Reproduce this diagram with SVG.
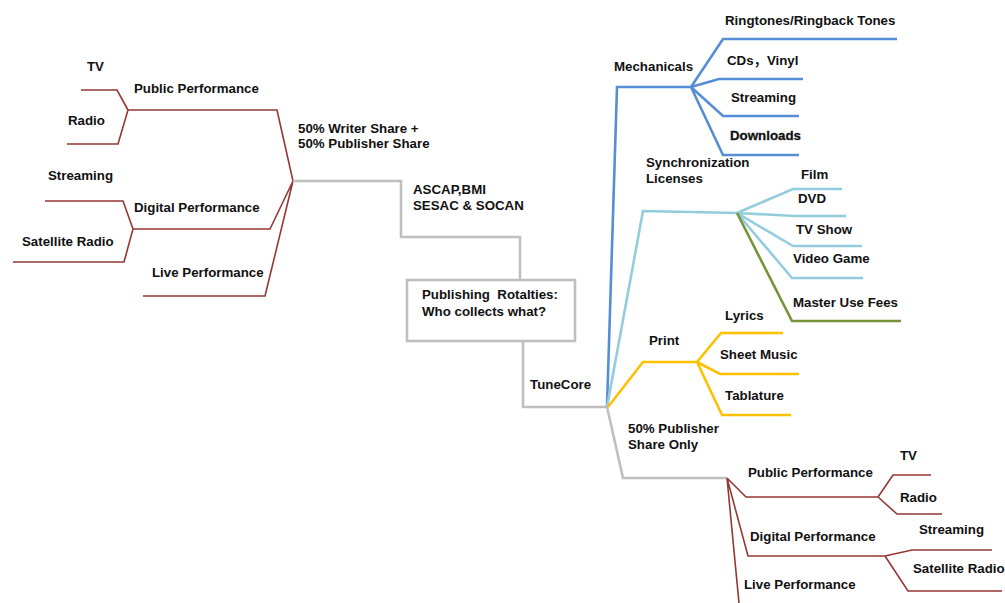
<svg xmlns="http://www.w3.org/2000/svg" width="1005" height="603" viewBox="0 0 1005 603">
<style>
text{font-family:"Liberation Sans",Arial,"Noto Sans CJK SC",sans-serif;font-weight:bold;font-size:13.3px;fill:#111}
.l{fill:none;stroke-linejoin:miter;stroke-linecap:butt}
.red{stroke:#953735;stroke-width:1.6}
.gray{stroke:#BFBFBF;stroke-width:2.6}
.blue{stroke:#558ED5;stroke-width:2.6}
.lb{stroke:#93CDDD;stroke-width:2.6}
.grn{stroke:#77933C;stroke-width:2.6}
.yel{stroke:#FFC000;stroke-width:2.6}
</style>
<rect width="1005" height="603" fill="#fff"/>
<g id="connectors">
<path class="l red" d="M81,90 H117 L128,110 M67,144 H118 L128,110 M128,110 H277 L293,181 M45,201 H123 L133,229 M13,262 H124 L133,229 M133,229 H270 L293,181 M143,296 H265 L293,181"/>
<path class="l gray" d="M293,181 H401 V237 H520 V279 M523,341 V407 H607 M607,407 L623,478 H727"/>
<path class="l blue" d="M607,407 L617,87 H691 M691,87 L723,39 H897 M691,87 L719,79 H803 M691,87 L723,116 H799 M691,87 L723,155 H799"/>
<path class="l lb" d="M607,407 L643,211 L737,213 M737,213 L793,189 H842 M737,213 L795,216 H846 M737,213 L793,246 H862 M737,213 L792,278 H863"/>
<path class="l grn" d="M737,213 L792,321 H901"/>
<path class="l yel" d="M608,407 L643,362 H697 M697,362 L721,333 H783 M697,362 L720,374 H799 M697,362 L722,415 H791"/>
<path class="l red" d="M727,478 L746,497 H878 M878,497 L893,475 H931 M878,497 L897,514 H942 M727,478 L748,556 H885 M885,556 L912,550 H992 M885,556 L908,591 H1002 M727,478 L739,603"/>
</g>
<g id="root"><rect x="407" y="280" width="168" height="61" fill="#fff" stroke="#BFBFBF" stroke-width="2.6"/><text x="422" y="299">Publishing&#160; Rotalties:</text><text x="422" y="316">Who collects what?</text></g>
<g id="pro"><text x="413" y="194">ASCAP,BMI</text><text x="413" y="210">SESAC &amp; SOCAN</text></g>
<g id="writer-share"><text x="298" y="133">50% Writer Share +</text><text x="298" y="148">50% Publisher Share</text></g>
<g id="l-public"><text x="134" y="93">Public Performance</text></g>
<g id="l-tv"><text x="87" y="71">TV</text></g>
<g id="l-radio"><text x="68" y="125">Radio</text></g>
<g id="l-digital"><text x="134" y="212">Digital Performance</text></g>
<g id="l-streaming"><text x="48" y="180">Streaming</text></g>
<g id="l-satellite"><text x="22" y="246">Satellite Radio</text></g>
<g id="l-live"><text x="152" y="277">Live Performance</text></g>
<g id="tunecore"><text x="530" y="389">TuneCore</text></g>
<g id="mechanicals"><text x="614" y="71">Mechanicals</text></g>
<g id="ringtones"><text x="725" y="25">Ringtones/Ringback Tones</text></g>
<g id="cds"><text x="727" y="65">CDs，Vinyl</text></g>
<g id="m-streaming"><text x="731" y="102">Streaming</text></g>
<g id="downloads"><text x="730" y="140" stroke="#111" stroke-width="0.3">Downloads</text></g>
<g id="sync"><text x="646" y="167">Synchronization</text><text x="646" y="183">Licenses</text></g>
<g id="film"><text x="801" y="179">Film</text></g>
<g id="dvd"><text x="798" y="203">DVD</text></g>
<g id="tvshow"><text x="796" y="234">TV Show</text></g>
<g id="videogame"><text x="793" y="263">Video Game</text></g>
<g id="master"><text x="793" y="307">Master Use Fees</text></g>
<g id="print"><text x="649" y="345">Print</text></g>
<g id="lyrics"><text x="725" y="320">Lyrics</text></g>
<g id="sheet"><text x="720" y="359">Sheet Music</text></g>
<g id="tab"><text x="725" y="400">Tablature</text></g>
<g id="pub-only"><text x="628" y="433">50% Publisher</text><text x="628" y="449">Share Only</text></g>
<g id="r-public"><text x="748" y="477">Public Performance</text></g>
<g id="r-tv"><text x="900" y="460">TV</text></g>
<g id="r-radio"><text x="900" y="502">Radio</text></g>
<g id="r-digital"><text x="750" y="541">Digital Performance</text></g>
<g id="r-streaming"><text x="919" y="534">Streaming</text></g>
<g id="r-satellite"><text x="913" y="573">Satellite Radio</text></g>
<g id="r-live"><text x="744" y="589">Live Performance</text></g>
</svg>
